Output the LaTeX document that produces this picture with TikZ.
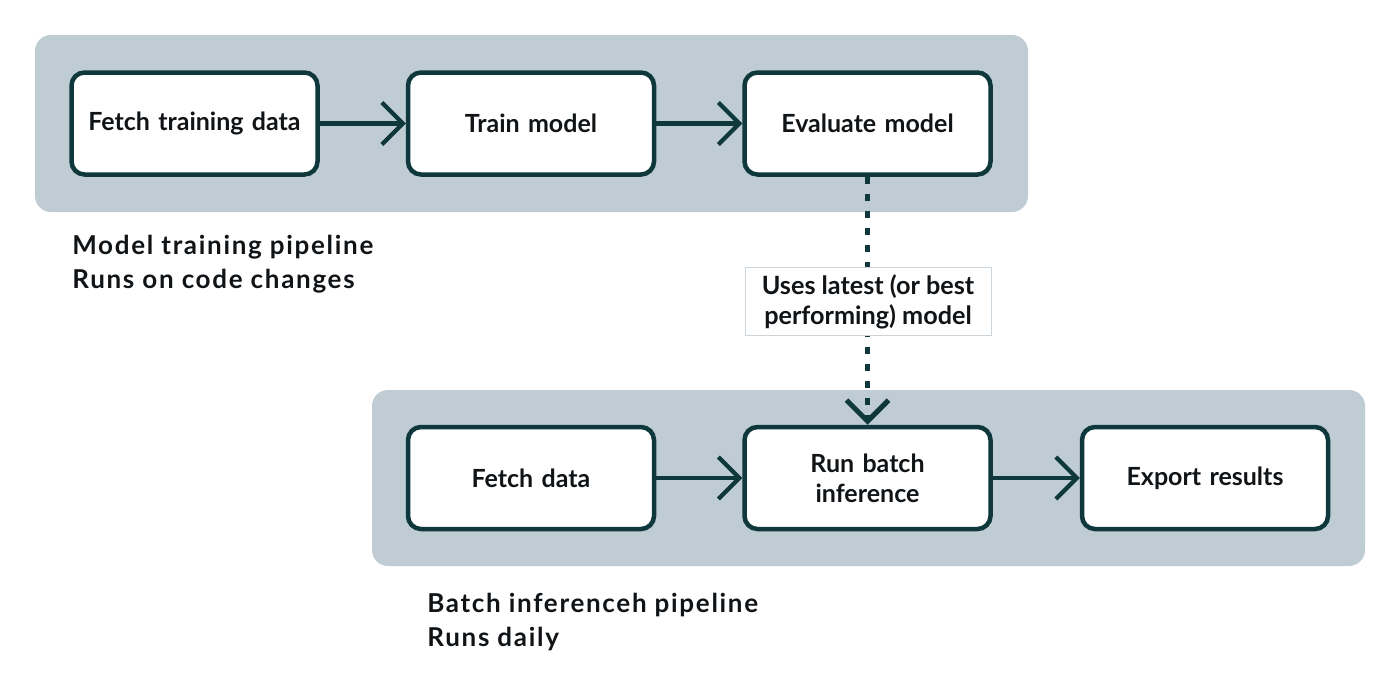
\documentclass[tikz,border=0pt]{standalone}
\usepackage{fontspec}
\setmainfont{Lato}
\usetikzlibrary{arrows.meta}
\definecolor{panelGray}{HTML}{BFCCD4}
\definecolor{darkTeal}{HTML}{0F383D}
\definecolor{inkBlack}{HTML}{111417}
\definecolor{noteLine}{HTML}{CCD5DB}
\begin{document}
\begin{tikzpicture}
[x=0.5pt,y=-0.5pt,%
  pipePanel/.style={fill=panelGray,rounded corners=8pt},%
  stageBox/.style={shape=rectangle,rounded corners=6.5pt,draw=darkTeal,line width=2.25pt,fill=white,minimum width=123pt,minimum height=51pt,text width=116pt,align=center,text=inkBlack,font=\bfseries\fontsize{12.5}{15}\selectfont},%
  flowArrow/.style={-{Straight Barb[length=10.5pt,width=21pt]},line width=2.1pt,color=darkTeal},%
  dashArrow/.style={-{Straight Barb[length=10.5pt,width=21pt]},line width=2.5pt,dash pattern=on 3.5pt off 5pt,color=darkTeal},%
  noteBox/.style={draw=noteLine,line width=0.5pt,fill=white,minimum width=123pt,minimum height=34pt,align=center,text=inkBlack,font=\bfseries\fontsize{12.6}{15}\selectfont},%
  pipeLabel/.style={anchor=north west,inner sep=0pt,align=left,text=inkBlack,font=\bfseries\fontsize{13}{17}\selectfont\addfontfeatures{LetterSpace=6.5}}]
\path[fill=white] (0,0) rectangle (1400,691);
%% panels
\path[pipePanel] (35,35) rectangle (1028,212);
\path[pipePanel] (372,390) rectangle (1365,566);
%% stages
\foreach \nodename/\x/\y/\txt in {fetchTrain/194.5/123.5/{Fetch training data}, trainModel/531/123.5/{Train model}, evalModel/867.5/123.5/{Evaluate model}, fetchData/531/478/{Fetch data}, runBatch/867.5/478/{Run batch\\inference}, exportRes/1205/478/{Export results}}
{
  \node (\nodename) at (\x,\y) [stageBox] {\txt};
}
%% arrows
\path
\foreach \startnode/\endnode in {fetchTrain/trainModel, trainModel/evalModel, fetchData/runBatch, runBatch/exportRes}
{
  (\startnode) edge[flowArrow] (\endnode)
};
\draw[dashArrow] (evalModel) -- (runBatch);
\node (usesNote) at (868,301.5) [noteBox] {Uses latest (or best\\performing) model};
%% pipeline labels
\node (trainLabel) at (72,235) [pipeLabel] {Model training pipeline\\Runs on code changes};
\node (batchLabel) at (427,593) [pipeLabel] {Batch inferenceh pipeline\\Runs daily};
\end{tikzpicture}
\end{document}
